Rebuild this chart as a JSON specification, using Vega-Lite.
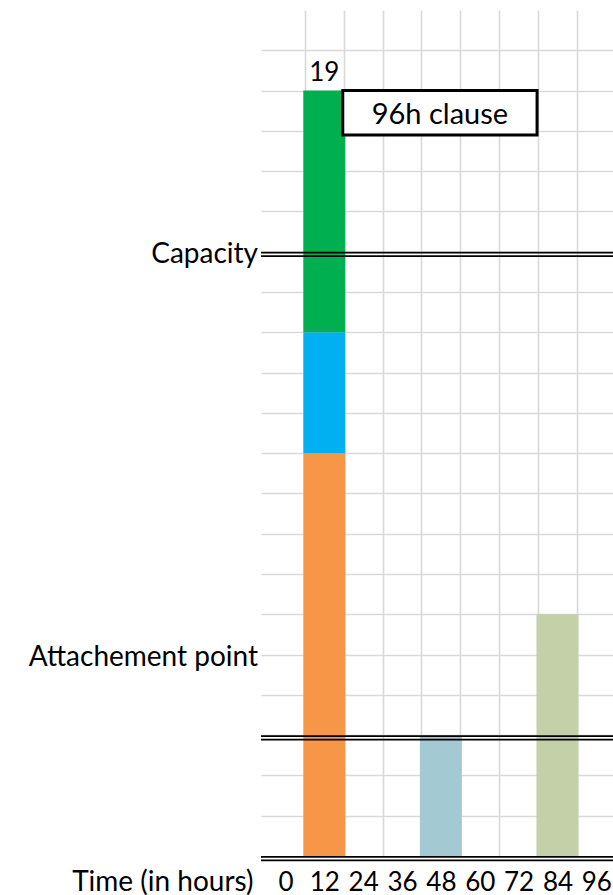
{
  "$schema": "https://vega.github.io/schema/vega-lite/v6.json",
  "width": 352,
  "height": 846,
  "autosize": {"type": "none"},
  "padding": {"left": 261, "top": 10, "right": 0, "bottom": 39},
  "background": "white",
  "config": {"view": {"stroke": null}, "font": "Lato", "text": {"font": "Lato", "color": "#000000"}},
  "datasets": {
    "bars": [
      {"hour": 12, "part": "a", "low": 0, "high": 10},
      {"hour": 12, "part": "b", "low": 10, "high": 13},
      {"hour": 12, "part": "c", "low": 13, "high": 19},
      {"hour": 48, "part": "d", "low": 0, "high": 3},
      {"hour": 84, "part": "e", "low": 0, "high": 6}
    ],
    "lines": [
      {"name": "Axis", "level": 0},
      {"name": "Attachement point", "level": 3},
      {"name": "Capacity", "level": 15}
    ],
    "labels": [
      {"text": "Capacity", "level": 15},
      {"text": "Attachement point", "level": 5}
    ],
    "clause": [
      {"text": "96h clause", "from": 17.7, "to": 77.7, "mid": 47.7, "bottom": 17.9, "top": 19, "center": 18.45}
    ],
    "total": [{"hour": 12, "total": 19}]
  },
  "resolve": {"axis": {"x": "independent", "y": "independent"}},
  "layer": [
    {
      "data": {"name": "bars"},
      "mark": {"type": "bar", "width": 42},
      "encoding": {
        "x": {
          "field": "hour",
          "type": "quantitative",
          "scale": {"domain": [-6, 99.6], "nice": false, "zero": false},
          "axis": {
            "orient": "bottom",
            "values": [0, 12, 24, 36, 48, 60, 72, 84, 96],
            "grid": false,
            "ticks": false,
            "domain": false,
            "labelFontSize": 26,
            "labelPadding": 13,
            "labelColor": "#000000",
            "labelFlush": false,
            "labelOverlap": false,
            "labelBound": false,
            "title": "Time (in hours)",
            "titleX": -8,
            "titleY": 12,
            "titleAlign": "right",
            "titleAnchor": null,
            "titleBaseline": "top",
            "titleFontSize": 28,
            "titleFontWeight": "normal",
            "titleColor": "#000000"
          }
        },
        "y": {
          "field": "low",
          "type": "quantitative",
          "scale": {"domain": [0, 21], "nice": false, "zero": true},
          "axis": {
            "orient": "left",
            "values": [1, 2, 3, 4, 5, 6, 7, 8, 9, 10, 11, 12, 13, 14, 15, 16, 17, 18, 19, 20],
            "grid": true,
            "gridColor": "#d9d9d9",
            "gridWidth": 1.6,
            "labels": false,
            "ticks": false,
            "domain": false,
            "title": null
          }
        },
        "y2": {"field": "high"},
        "color": {
          "field": "part",
          "type": "nominal",
          "scale": {"domain": ["a", "b", "c", "d", "e"], "range": ["#F79646", "#00B0F0", "#00B050", "#a3c9d3", "#c4d0a8"]},
          "legend": null
        }
      }
    },
    {
      "data": {"name": "clause"},
      "mark": {"type": "rect", "fill": "white", "stroke": "#000000", "strokeWidth": 3},
      "encoding": {
        "x": {
          "field": "from",
          "type": "quantitative",
          "axis": {
            "orient": "top",
            "values": [6, 18, 30, 42, 54, 66, 78, 90],
            "grid": true,
            "gridColor": "#d9d9d9",
            "gridWidth": 1.6,
            "labels": false,
            "ticks": false,
            "domain": false,
            "title": null
          }
        },
        "x2": {"field": "to"},
        "y": {"field": "bottom", "type": "quantitative", "axis": null},
        "y2": {"field": "top"}
      }
    },
    {
      "data": {"name": "clause"},
      "mark": {"type": "text", "fontSize": 29, "baseline": "middle", "align": "center", "dy": 2},
      "encoding": {
        "x": {"field": "mid", "type": "quantitative", "axis": null},
        "y": {"field": "center", "type": "quantitative", "axis": null},
        "text": {"field": "text"}
      }
    },
    {
      "data": {"name": "total"},
      "mark": {"type": "text", "fontSize": 26, "baseline": "alphabetic", "align": "center", "dy": -10},
      "encoding": {
        "x": {"field": "hour", "type": "quantitative", "axis": null},
        "y": {"field": "total", "type": "quantitative", "axis": null},
        "text": {"field": "total"}
      }
    },
    {
      "data": {"name": "lines"},
      "mark": {"type": "rule", "color": "#000000", "strokeWidth": 1.8, "yOffset": 0.9},
      "encoding": {
        "y": {"field": "level", "type": "quantitative", "axis": null}
      }
    },
    {
      "data": {"name": "lines"},
      "mark": {"type": "rule", "color": "#000000", "strokeWidth": 1.8, "yOffset": 4.4},
      "encoding": {
        "y": {"field": "level", "type": "quantitative", "axis": null}
      }
    },
    {
      "data": {"name": "labels"},
      "mark": {"type": "text", "fontSize": 28, "baseline": "middle", "align": "right", "dx": -8, "dy": 3},
      "encoding": {
        "x": {"datum": -6, "type": "quantitative", "axis": null},
        "y": {"field": "level", "type": "quantitative", "axis": null},
        "text": {"field": "text"}
      }
    }
  ]
}
